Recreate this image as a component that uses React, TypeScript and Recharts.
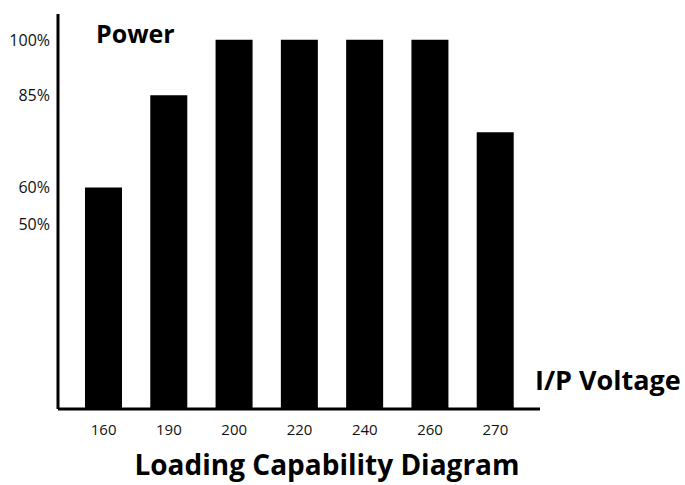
import React from 'react';
import { BarChart, Bar, XAxis, YAxis } from 'recharts';

// input voltage steps and the load each can carry (% of rated power)
const voltages = ['160', '190', '200', '220', '240', '260', '270'];
const powerPct = [60, 85, 100, 100, 100, 100, 75];
const yTicks = [50, 60, 85, 100];

const data = voltages.map((v, i) => ({ v, power: powerPct[i] }));

const FONT = '"Open Sans", "Noto Sans", sans-serif';

const App: React.FC = () => {
  return (
    <div style={{ position: 'absolute', left: 0, top: 0, width: 685, height: 485, background: '#fff', fontFamily: FONT }}>
      <BarChart
        width={685}
        height={485}
        data={data}
        margin={{ top: 14, right: 145, bottom: 0, left: 0 }}
        barCategoryGap={0}
      >
        <XAxis
          dataKey="v"
          height={76}
          interval={0}
          padding={{ left: 13, right: 12 }}
          axisLine={{ stroke: '#000', strokeWidth: 3 }}
          tickLine={false}
          tickSize={0}
          tickMargin={15}
          tick={{ fill: '#111', fontSize: 15, fontFamily: FONT }}
        />
        <YAxis
          width={58}
          domain={[0, 107]}
          ticks={yTicks}
          interval={0}
          allowDataOverflow
          tickFormatter={(t: number) => `${t}%`}
          axisLine={{ stroke: '#000', strokeWidth: 3 }}
          tickLine={false}
          tickSize={0}
          tickMargin={8}
          tick={{ fill: '#111', fontSize: 16, fontFamily: FONT }}
        />
        <Bar dataKey="power" fill="#000" barSize={37} isAnimationActive={false} />
      </BarChart>
      <svg width={685} height={485} style={{ position: 'absolute', left: 0, top: 0, pointerEvents: 'none' }}>
        <text x={96} y={43} fontFamily={FONT} fontWeight={700} fontSize={25} fill="#000">Power</text>
        <text x={535} y={390} fontFamily={FONT} fontWeight={700} fontSize={27} fill="#000">I/P Voltage</text>
        <text x={327} y={475} textAnchor="middle" fontFamily={FONT} fontWeight={700} fontSize={28} fill="#000">
          Loading Capability Diagram
        </text>
      </svg>
    </div>
  );
};

export default App;
